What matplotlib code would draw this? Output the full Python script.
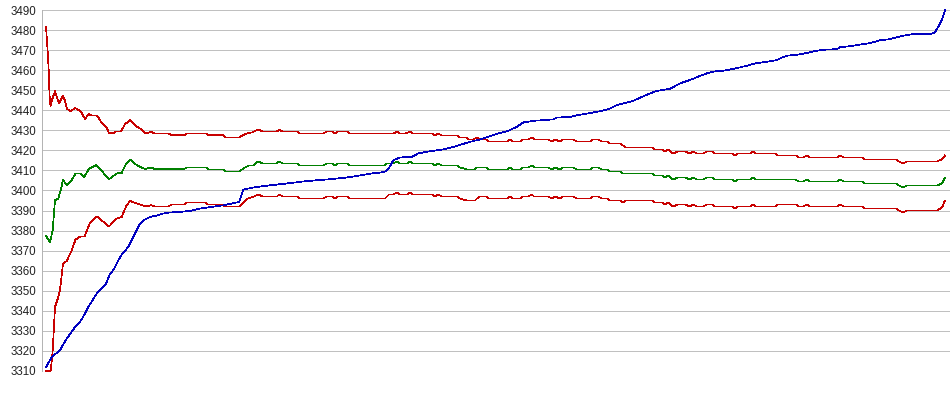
import numpy as np
import matplotlib
matplotlib.use("Agg")
import matplotlib.pyplot as plt

plt.rcParams['font.family'] = ['Liberation Sans', 'DejaVu Sans']

# y axis
y_ticks = list(range(3310, 3491, 10))

# sample index, value
upper_pts = np.array([
    [0, 3481.8], [1, 3474], [2, 3466.8], [3, 3456.8], [3.5, 3447.6], [4.5, 3442.3], [6.5, 3446],
    [9, 3449.6], [11, 3446.5], [13, 3443.5], [17, 3447.3], [19, 3444.8], [21, 3440.8], [25, 3439.6],
    [29, 3441.3], [33, 3440.1], [36, 3438.5], [39, 3435.7], [43, 3438.3], [45, 3437.5], [51, 3437.5],
    [55, 3434.3], [61, 3431], [63, 3428.6], [67, 3428.6], [70, 3429.5], [75, 3429.5], [79, 3433.1],
    [84, 3435.1], [91, 3431.8], [94, 3431], [100, 3428.5], [105, 3429.3], [109, 3428.5], [122, 3428.5],
    [126, 3427.6], [138, 3427.6], [141, 3428.5], [160, 3428.5], [162, 3427.6], [177, 3427.6],
    [179, 3426.5], [193, 3426.5], [197, 3427.6], [201, 3428.5], [206, 3429], [212, 3430.5],
    [217, 3429.5], [231, 3429.5], [233, 3430.3], [237, 3429.5], [251, 3429.5], [254, 3428.5],
    [277, 3428.5], [281, 3429.5], [286, 3429.5], [289, 3428.5], [292, 3429.5], [301, 3429.5],
    [304, 3428.5], [347, 3428.5], [351, 3429.3], [354, 3428.5], [359, 3428.5], [364, 3429.3],
    [367, 3428.5], [386, 3428.5], [389, 3427.6], [392, 3428.5], [396, 3427.5], [411, 3427.5],
    [413, 3426.5], [421, 3426.5], [422, 3425.5], [427, 3425.5], [431, 3426.5], [434, 3425.5],
    [441, 3425.5], [442, 3424.5], [461, 3424.5], [464, 3425.5], [467, 3424.5], [474, 3424.5],
    [477, 3425.5], [482, 3425.5], [486, 3426.5], [488, 3425.5], [502, 3425.5], [506, 3424.5],
    [509, 3425.5], [514, 3424.5], [517, 3425.5], [527, 3425.5], [531, 3424.5], [544, 3424.5],
    [547, 3425.5], [552, 3425.5], [556, 3424.5], [561, 3424.5], [564, 3423.5], [574, 3423.5],
    [580, 3421.5], [606, 3421.5], [609, 3420.5], [616, 3420.5], [619, 3419.5], [622, 3420.5],
    [627, 3418.5], [632, 3419.5], [639, 3419.5], [644, 3418.5], [647, 3419.5], [651, 3418.5],
    [657, 3418.5], [661, 3419.5], [666, 3419.5], [669, 3418.5], [686, 3418.5], [689, 3417.5],
    [692, 3418.5], [704, 3418.5], [707, 3419.5], [710, 3418.5], [729, 3418.5], [731, 3417.5],
    [750, 3417.5], [753, 3416.5], [757, 3416.5], [761, 3417.5], [764, 3416.5], [791, 3416.5],
    [794, 3417.5], [798, 3416.5], [816, 3416.5], [819, 3415.5], [850, 3415.5], [853, 3414.5],
    [857, 3413.5], [861, 3414.5], [891, 3414.5], [896, 3415.6], [899, 3417.5],
])

mean_pts = np.array([
    [0, 3377.2], [4, 3374.3], [6.7, 3380.1], [9, 3395.1], [12.3, 3396], [14.7, 3400.1], [17, 3405.3],
    [21, 3402.6], [26, 3405.5], [29.5, 3408.5], [34.5, 3408.5], [38, 3406.7], [43, 3410.8],
    [50, 3412.7], [54.7, 3410.2], [63.3, 3405.7], [70.7, 3408.5], [75.7, 3408.8], [80, 3413.2],
    [84, 3415.5], [90.7, 3412.7], [99, 3410.7], [105, 3411.5], [109, 3410.7], [138, 3410.7],
    [141, 3411.5], [160, 3411.5], [162, 3410.5], [177, 3410.5], [179, 3409.5], [193, 3409.5],
    [199, 3411.5], [203, 3412.5], [207, 3412.5], [212, 3414.5], [217, 3413.5], [231, 3413.5],
    [233, 3414.5], [237, 3413.5], [251, 3413.5], [254, 3412.5], [277, 3412.5], [281, 3413.5],
    [286, 3413.5], [289, 3412.5], [292, 3413.5], [301, 3413.5], [304, 3412.5], [339, 3412.5],
    [341, 3413.5], [347, 3413.5], [351, 3414.5], [354, 3413.5], [361, 3413.5], [364, 3414.5],
    [367, 3413.5], [386, 3413.5], [389, 3412.5], [392, 3413.5], [396, 3412.5], [411, 3412.5],
    [414, 3411.5], [421, 3410.5], [429, 3410.5], [431, 3411.5], [441, 3411.5], [442, 3410.5],
    [461, 3410.5], [464, 3411.5], [467, 3410.5], [474, 3410.5], [477, 3411.5], [482, 3411.5],
    [486, 3412.5], [488, 3411.5], [502, 3411.5], [506, 3410.5], [509, 3411.5], [514, 3410.5],
    [517, 3411.5], [527, 3411.5], [531, 3410.5], [544, 3410.5], [547, 3411.5], [552, 3411.5],
    [556, 3410.5], [561, 3410.5], [564, 3409.5], [574, 3409.5], [577, 3408.5], [606, 3408.5],
    [609, 3407.5], [616, 3407.5], [619, 3406.5], [622, 3407.5], [627, 3405.5], [632, 3406.5],
    [639, 3406.5], [644, 3405.5], [647, 3406.5], [651, 3405.5], [657, 3405.5], [661, 3406.5],
    [666, 3406.5], [669, 3405.5], [686, 3405.5], [689, 3404.5], [692, 3405.5], [704, 3405.5],
    [707, 3406.5], [710, 3405.5], [749, 3405.5], [753, 3404.5], [757, 3404.5], [761, 3405.5],
    [764, 3404.5], [791, 3404.5], [794, 3405.5], [798, 3404.5], [816, 3404.5], [819, 3403.5],
    [850, 3403.5], [853, 3402.5], [857, 3401.5], [861, 3402.5], [891, 3402.5], [896, 3403.5],
    [899, 3406.5],
])

lower_pts = np.array([
    [0, 3310], [4.7, 3310], [6.7, 3320.1], [9, 3341.8], [12.3, 3346.8], [14, 3350.5], [17, 3363.3],
    [20.7, 3364.8], [25.7, 3370.1], [29.5, 3375.5], [34.5, 3377.1], [38.5, 3377.1], [41, 3380.1],
    [44, 3384], [50.7, 3387.1], [54.7, 3385.5], [63, 3382], [70.7, 3386], [75.7, 3386.8],
    [80, 3392], [84, 3394.8], [90.7, 3393.5], [100, 3392], [105, 3392.7], [109, 3392], [122, 3392],
    [126, 3393], [138, 3393], [141, 3394], [160, 3394], [162, 3393], [177, 3393], [179, 3392],
    [193, 3392], [197, 3394], [201, 3395.8], [207, 3396.8], [212, 3398], [217, 3397], [231, 3397],
    [233, 3398], [237, 3397], [251, 3397], [254, 3396], [277, 3396], [281, 3397], [286, 3397],
    [289, 3396], [292, 3397], [301, 3397], [304, 3396], [339, 3396], [343, 3398], [347, 3398],
    [351, 3399], [354, 3398], [361, 3398], [364, 3399], [367, 3398], [386, 3398], [389, 3397],
    [392, 3398], [396, 3397], [411, 3397], [414, 3396], [421, 3395], [429, 3395], [431, 3396],
    [434, 3397], [441, 3397], [442, 3396], [461, 3396], [464, 3397], [467, 3396], [474, 3396],
    [477, 3397], [482, 3397], [486, 3398], [488, 3397], [502, 3397], [506, 3396], [509, 3397],
    [514, 3396], [517, 3397], [527, 3397], [531, 3396], [544, 3396], [547, 3397], [552, 3397],
    [556, 3396], [561, 3396], [564, 3395], [574, 3395], [577, 3394], [580, 3395], [606, 3395],
    [609, 3394], [616, 3394], [619, 3393], [622, 3394], [627, 3392], [632, 3393], [639, 3393],
    [644, 3392], [647, 3393], [651, 3392], [657, 3392], [661, 3393], [666, 3393], [669, 3392],
    [686, 3392], [689, 3391], [692, 3392], [704, 3392], [707, 3393], [710, 3392], [729, 3392],
    [731, 3393], [750, 3393], [753, 3392], [757, 3392], [761, 3393], [764, 3392], [791, 3392],
    [794, 3393], [798, 3392], [816, 3392], [819, 3391], [850, 3391], [853, 3390], [857, 3389],
    [861, 3390], [891, 3390], [896, 3391.5], [899, 3395],
])

blue_pts = np.array([
    [0, 3311.8], [5.7, 3316.8], [14, 3320.3], [20.7, 3326], [26.7, 3330.1], [29, 3331.8],
    [35.7, 3335.5], [42.3, 3341.8], [50.7, 3348.5], [54, 3350.5], [60, 3353.5], [64, 3358.5],
    [67.3, 3360.2], [72.3, 3365.2], [75.7, 3368], [82.3, 3371.8], [84, 3373.5], [90.7, 3380.1],
    [94, 3383.5], [99, 3385.5], [104, 3386.8], [110.7, 3387.5], [117.3, 3388.5], [123.3, 3389],
    [134, 3389.3], [144, 3389.8], [154, 3391], [165.7, 3391.8], [177.3, 3392.6], [185.7, 3393.5],
    [193.3, 3394.3], [197.3, 3400.5], [207.3, 3401.5], [219, 3402.3], [240.7, 3403.5],
    [260.7, 3404.7], [280.7, 3405.5], [300.7, 3406.5], [314, 3407.5], [325.7, 3408.5], [335, 3409],
    [339, 3409.5], [343.3, 3411.5], [347.3, 3415.1], [354, 3416.5], [365.7, 3416.8],
    [372.3, 3418.5], [382.3, 3419.5], [397.3, 3420.5], [405.7, 3421.5], [414, 3422.8],
    [424, 3424.3], [434, 3425.5], [444, 3427.1], [452.3, 3428.5], [462.3, 3429.8], [470.7, 3431.8],
    [477.3, 3434], [487.3, 3434.8], [507.3, 3435.5], [510.7, 3436.5], [524, 3436.6],
    [530.7, 3437.6], [542.3, 3438.5], [554, 3439.6], [562.3, 3440.6], [570.7, 3442.6],
    [577.3, 3443.5], [587.3, 3444.8], [595.7, 3446.7], [604, 3448.5], [610.7, 3449.7],
    [624, 3450.8], [634, 3453.5], [644, 3455.2], [654, 3457.2], [660.7, 3458.5], [669, 3459.5],
    [677.3, 3459.8], [685.7, 3460.6], [694, 3461.5], [700.7, 3462.3], [709, 3463.5],
    [720.7, 3464.3], [730.7, 3465.1], [735.7, 3466.4], [742.3, 3467.4], [754, 3468], [764, 3469],
    [767.3, 3469.5], [777.3, 3470.3], [790.7, 3470.6], [794, 3471.5], [804, 3472.1],
    [815.7, 3473], [824, 3473.6], [834, 3475], [844, 3475.6], [849, 3476.3], [857.3, 3477.3],
    [869, 3478.3], [885.7, 3478.3], [889, 3479], [892.3, 3481.8], [895.7, 3485.2], [899.3, 3490.3],
])

fig = plt.figure(figsize=(9.5, 3.95), dpi=100)
ax = fig.add_axes([42 / 950, 24.3 / 395, 908 / 950, 360.4 / 395])

px = 0.72  # one pixel in points
ax.set_ylim(3310, 3490)
ax.set_xlim(-4, 904)
ax.set_yticks(y_ticks)
ax.set_xticks([])
ax.yaxis.grid(True, color='#c0c0c0', linewidth=px)
ax.set_axisbelow(True)
for s in ['top', 'right', 'bottom']:
    ax.spines[s].set_visible(False)
ax.spines['left'].set_color('#b4b4b4')
ax.spines['left'].set_linewidth(px)
ax.tick_params(axis='y', length=0, pad=4.3, labelsize=8.3, labelcolor='#222222')

lw = 0.5
ax.plot(upper_pts[:, 0], upper_pts[:, 1], color='#c80000', lw=lw, antialiased=False, clip_on=False)
ax.plot(lower_pts[:, 0], lower_pts[:, 1], color='#c80000', lw=lw, antialiased=False, clip_on=False)
ax.plot(mean_pts[:, 0], mean_pts[:, 1], color='#008000', lw=lw, antialiased=False, clip_on=False)
ax.plot(blue_pts[:, 0], blue_pts[:, 1], color='#0000c0', lw=lw, antialiased=False, clip_on=False)

fig.savefig('out.png', dpi=100)
